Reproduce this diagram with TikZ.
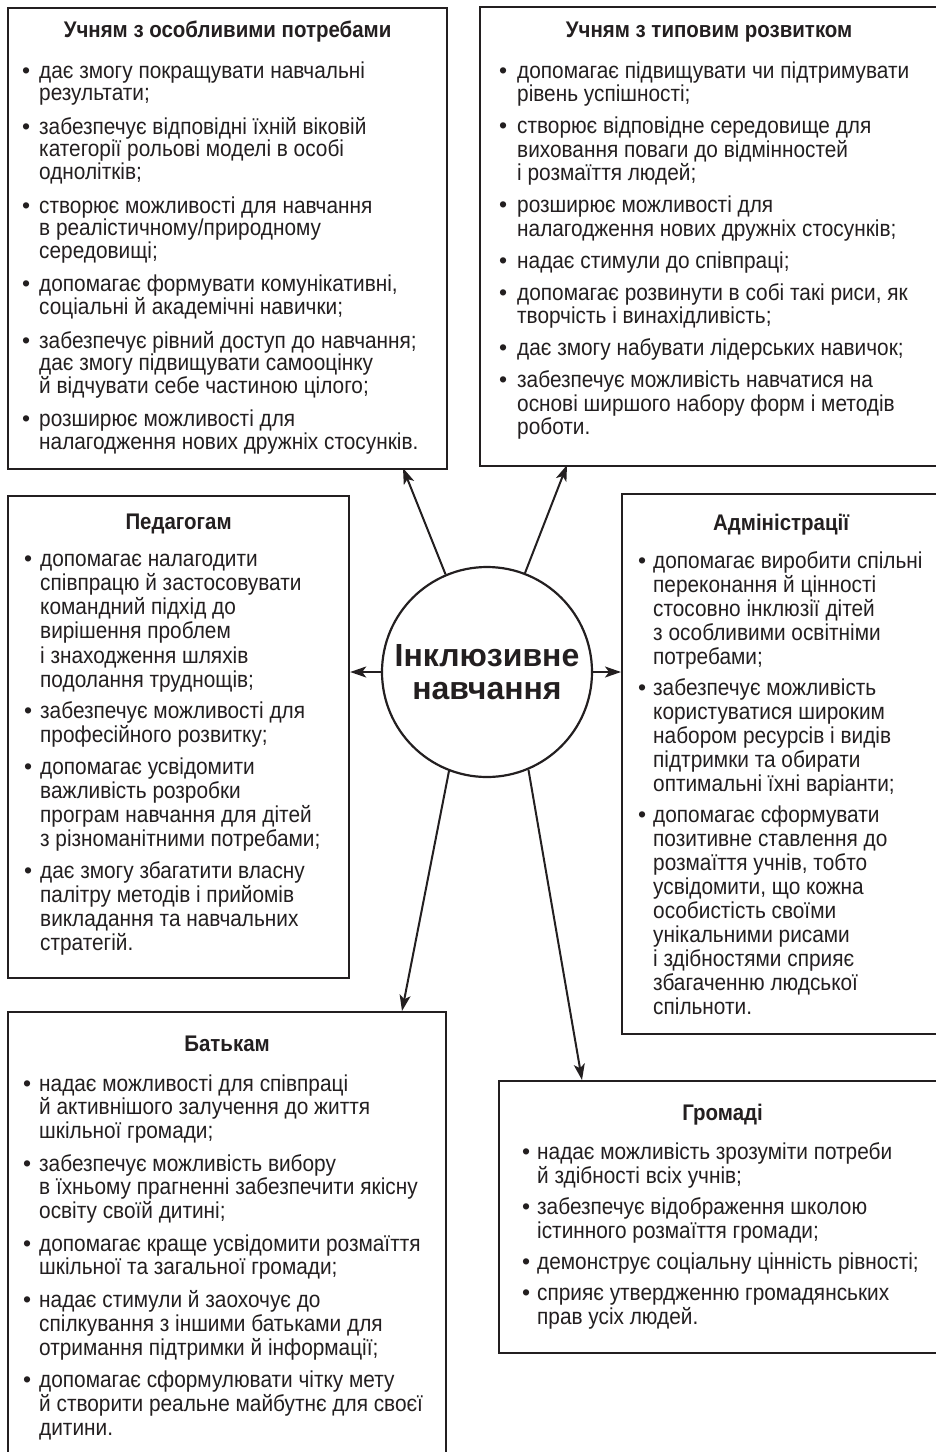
\documentclass[tikz,border=0pt]{standalone}
\usepackage{fontspec}
\setmainfont{Liberation Sans}[FakeStretch=0.905]
\newfontfamily\dotfont{Liberation Sans}
\newfontfamily\hubfamily{Liberation Sans}
\usetikzlibrary{arrows.meta}
\definecolor{ink}{RGB}{35,31,32}

\newlength{\hangw}
\newlength{\gapw}
\def\nextline{\egroup\hbox\bgroup\kern\hangw}
\newcommand{\entry}[1]{\hbox\bgroup\makebox[\hangw][l]{\dotfont\textbullet}#1\egroup\vskip\gapw}
\newcommand{\bullets}[4]{\vtop{\setlength{\baselineskip}{#1}\setlength{\lineskiplimit}{-30pt}%
  \setlength{\gapw}{#2}\setlength{\hangw}{#3}\let\\\nextline #4}}

\tikzset{
  card/.style={draw=ink, line width=2.2pt, anchor=north west, inner sep=0pt},
  head/.style={anchor=base, inner sep=0pt, text=ink, font=\bfseries\fontsize{22.6pt}{25pt}\selectfont},
  body/.style={anchor=base west, inner sep=0pt, text=ink, font=\fontsize{23pt}{24pt}\selectfont},
  hub/.style={circle, draw=ink, line width=2.2pt, minimum size=210pt, inner sep=0pt, align=center, text=ink, font=\hubfamily\bfseries\fontsize{32pt}{33pt}\selectfont},
  link/.style={draw=ink, line width=2pt, -{Stealth[length=16pt,width=11pt,inset=4pt]}}
}

\begin{document}
\begin{tikzpicture}[x=1pt,y=-1pt]
\useasboundingbox (0,0) rectangle (935,1452);
\fill[white] (0,0) rectangle (935,1452);

\node[hub] (incl) at (487,672) {Інклюзивне\\навчання};

% Учням з особливими потребами
\node[card, minimum width=439pt, minimum height=461pt] (special) at (7,7) {};
\node[head] (specialT) at ([yshift=-30.5pt]special.north) {Учням з особливими потребами};
\node[body] (specialL) at ([xshift=15pt,yshift=-71pt]special.north west) {\bullets{22.8pt}{10.5pt}{17pt}{
  \entry{дає змогу покращувати навчальні\\результати;}
  \entry{забезпечує відповідні їхній віковій\\категорії рольові моделі в особі\\однолітків;}
  \entry{створює можливості для навчання\\в реалістичному/природному\\середовищі;}
  \entry{допомагає формувати комунікативні,\\соціальні й академічні навички;}
  \entry{забезпечує рівний доступ до навчання;\\дає змогу підвищувати самооцінку\\й відчувати себе частиною цілого;}
  \entry{розширює можливості для\\налагодження нових дружніх стосунків.}}};

% Учням з типовим розвитком
\node[card, minimum width=458pt, minimum height=459pt] (typical) at (479,6) {};
\node[head] (typicalT) at ([yshift=-31.5pt]typical.north) {Учням з типовим розвитком};
\node[body] (typicalL) at ([xshift=20pt,yshift=-72pt]typical.north west) {\bullets{23.5pt}{8.5pt}{18pt}{
  \entry{допомагає підвищувати чи підтримувати\\рівень успішності;}
  \entry{створює відповідне середовище для\\виховання поваги до відмінностей\\і розмаїття людей;}
  \entry{розширює можливості для\\налагодження нових дружніх стосунків;}
  \entry{надає стимули до співпраці;}
  \entry{допомагає розвинути в собі такі риси, як\\творчість і винахідливість;}
  \entry{дає змогу набувати лідерських навичок;}
  \entry{забезпечує можливість навчатися на\\основі ширшого набору форм і методів\\роботи.}}};

% Педагогам
\node[card, minimum width=341pt, minimum height=482pt] (teachers) at (7,495) {};
\node[head] (teachersT) at ([yshift=-34pt]teachers.north) {Педагогам};
\node[body] (teachersL) at ([xshift=17pt,yshift=-71pt]teachers.north west) {\bullets{24.3pt}{6.8pt}{16pt}{
  \entry{допомагає налагодити\\співпрацю й застосовувати\\командний підхід до\\вирішення проблем\\і знаходження шляхів\\подолання труднощів;}
  \entry{забезпечує можливості для\\професійного розвитку;}
  \entry{допомагає усвідомити\\важливість розробки\\програм навчання для дітей\\з різноманітними потребами;}
  \entry{дає змогу збагатити власну\\палітру методів і прийомів\\викладання та навчальних\\стратегій.}}};

% Адміністрації
\node[card, minimum width=318pt, minimum height=540pt] (admin) at (621,493) {};
\node[head] (adminT) at ([yshift=-37pt]admin.north) {Адміністрації};
\node[body] (adminL) at ([xshift=17pt,yshift=-75pt]admin.north west) {\bullets{24pt}{7pt}{15pt}{
  \entry{допомагає виробити спільні\\переконання й цінності\\стосовно інклюзії дітей\\з особливими освітніми\\потребами;}
  \entry{забезпечує можливість\\користуватися широким\\набором ресурсів і видів\\підтримки та обирати\\оптимальні їхні варіанти;}
  \entry{допомагає сформувати\\позитивне ставлення до\\розмаїття учнів, тобто\\усвідомити, що кожна\\особистість своїми\\унікальними рисами\\і здібностями сприяє\\збагаченню людської\\спільноти.}}};

% Батькам
\node[card, minimum width=438pt, minimum height=459pt] (parents) at (7,1011) {};
\node[head] (parentsT) at ([yshift=-40pt]parents.north) {Батькам};
\node[body] (parentsL) at ([xshift=16pt,yshift=-80pt]parents.north west) {\bullets{23.7pt}{9pt}{16pt}{
  \entry{надає можливості для співпраці\\й активнішого залучення до життя\\шкільної громади;}
  \entry{забезпечує можливість вибору\\в їхньому прагненні забезпечити якісну\\освіту своїй дитині;}
  \entry{допомагає краще усвідомити розмаїття\\шкільної та загальної громади;}
  \entry{надає стимули й заохочує до\\спілкування з іншими батьками для\\отримання підтримки й інформації;}
  \entry{допомагає сформулювати чітку мету\\й створити реальне майбутнє для своєї\\дитини.}}};

% Громаді
\node[card, minimum width=447pt, minimum height=272pt] (community) at (498,1080) {};
\node[head] (communityT) at ([yshift=-40pt]community.north) {Громаді};
\node[body] (communityL) at ([xshift=24pt,yshift=-79pt]community.north west) {\bullets{24pt}{7pt}{15pt}{
  \entry{надає можливість зрозуміти потреби\\й здібності всіх учнів;}
  \entry{забезпечує відображення школою\\істинного розмаїття громади;}
  \entry{демонструє соціальну цінність рівності;}
  \entry{сприяє утвердженню громадянських\\прав усіх людей.}}};

% стрілки
\coordinate (toSpecial) at (403,468);
\coordinate (toTypical) at (567,465);
\coordinate (toParents) at (402,1011);
\coordinate (toCommunity) at (582,1080);
\draw[link] (incl.113) -- (toSpecial);
\draw[link] (incl.69) -- (toTypical);
\draw[link] (incl) -- (incl -| teachers.east);
\draw[link] (incl) -- (incl -| admin.west);
\draw[link] (incl.249.5) -- (toParents);
\draw[link] (incl.293.6) -- (toCommunity);
\end{tikzpicture}
\end{document}
